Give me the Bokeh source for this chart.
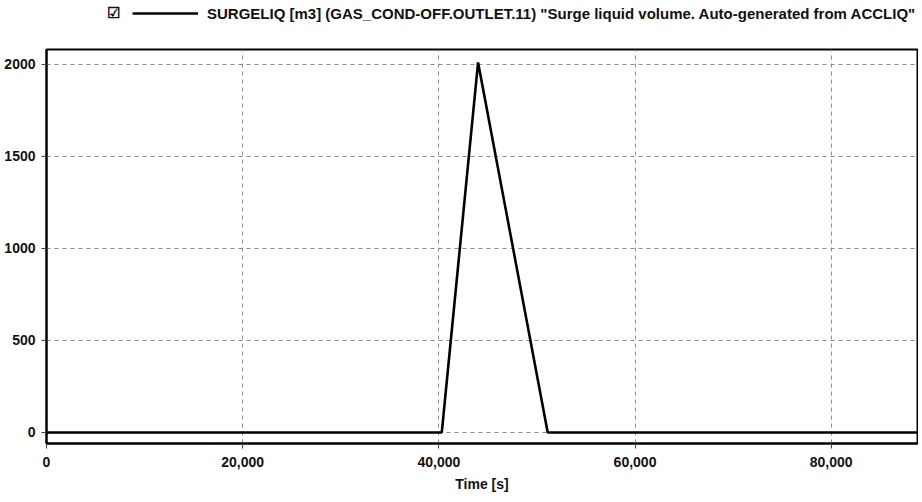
from bokeh.plotting import figure
from bokeh.layouts import column
from bokeh.models import Range1d, FixedTicker, NumeralTickFormatter, Legend, LegendItem
from bokeh.embed import file_html
from bokeh.resources import INLINE

# Data
time_s = [0, 40300, 44000, 51100, 88800]
surgeliq = [0, 0, 2010, 0, 0]
x_ticks = [0, 20000, 40000, 60000, 80000]
y_ticks = [0, 500, 1000, 1500, 2000]
legend_label = 'SURGELIQ [m3] (GAS_COND-OFF.OUTLET.11) "Surge liquid volume. Auto-generated from ACCLIQ"'
checkbox_label = "\u2611"
x_title = "Time [s]"

FONT = "Liberation Sans"

# ---- header strip holding the legend (its range keeps the series out of view) ----
head = figure(width=918, height=45, output_backend="svg", toolbar_location=None,
              x_range=Range1d(0, 88800), y_range=Range1d(5000, 6000),
              min_border_left=46, min_border_top=0, min_border_right=1, min_border_bottom=0)
head.axis.visible = False
head.grid.visible = False
head.outline_line_color = None
head.background_fill_color = "white"
head.border_fill_color = "white"
leg_line = head.line(time_s, surgeliq, line_color="black", line_width=2.6)
leg_blank = head.line(time_s, surgeliq, line_alpha=0)

legend = Legend(items=[LegendItem(label=checkbox_label, renderers=[leg_blank]),
                       LegendItem(label=legend_label, renderers=[leg_line])],
                orientation="horizontal", location=(-14, 23),
                glyph_width=66, glyph_height=18, label_standoff=9, spacing=12,
                label_width=12, label_height=18, border_line_color=None, background_fill_alpha=0,
                label_text_font=FONT, label_text_font_style="bold",
                label_text_font_size="15px", label_text_color="#111111",
                padding=0, margin=0)
head.add_layout(legend)

# ---- main chart ----
p = figure(width=918, height=449, output_backend="svg", toolbar_location=None,
           x_range=Range1d(0, 88800), y_range=Range1d(-60, 2080),
           min_border_left=46, min_border_top=4, min_border_right=1, min_border_bottom=47)
p.background_fill_color = "white"
p.border_fill_color = "white"
p.outline_line_color = "black"
p.outline_line_width = 2

p.line(time_s, surgeliq, line_color="black", line_width=2.6)

for ax in (p.xaxis[0], p.yaxis[0]):
    ax.axis_line_color = "black"
    ax.axis_line_width = 2
    ax.major_tick_in = 0
    ax.major_tick_out = 5
    ax.major_tick_line_color = "#444444"
    ax.minor_tick_line_color = None
    ax.major_label_text_font = FONT
    ax.major_label_text_font_style = "bold"
    ax.major_label_text_font_size = "14px"
    ax.major_label_text_color = "#111111"

p.xaxis[0].ticker = FixedTicker(ticks=x_ticks)
p.xaxis[0].formatter = NumeralTickFormatter(format="0,0")
p.xaxis[0].major_label_standoff = 8
p.xaxis[0].axis_label = x_title
p.xaxis[0].axis_label_text_font = FONT
p.xaxis[0].axis_label_text_font_style = "bold"
p.xaxis[0].axis_label_text_font_size = "14px"
p.xaxis[0].axis_label_text_color = "#111111"
p.xaxis[0].axis_label_standoff = 6

p.yaxis[0].ticker = FixedTicker(ticks=y_ticks)
p.yaxis[0].major_label_standoff = 6

p.grid.grid_line_color = "#8a8a8a"
p.grid.grid_line_dash = "4 4"
p.grid.grid_line_width = 1

layout = column(head, p, spacing=0)
open("out.html", "w").write(file_html(layout, INLINE))
